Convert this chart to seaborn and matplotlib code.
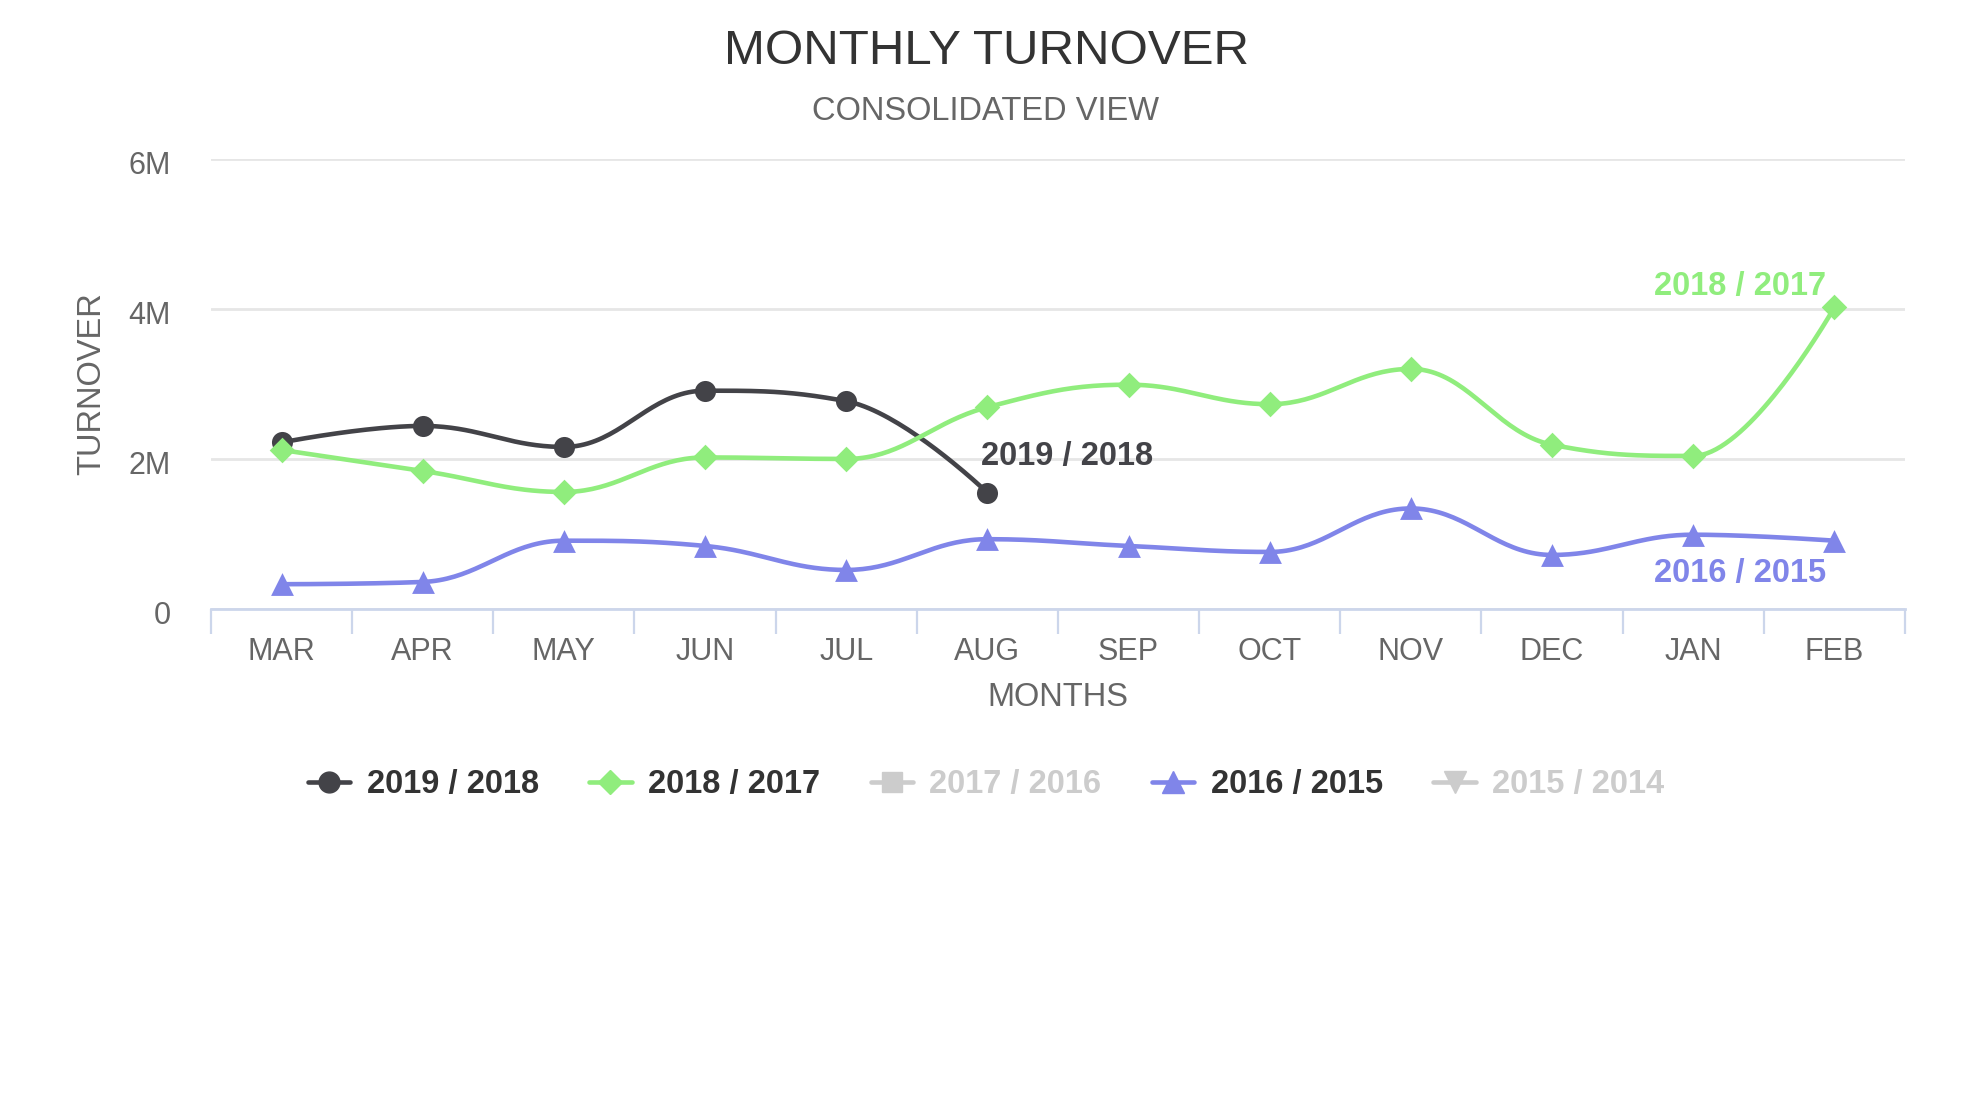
import numpy as np
import pandas as pd
import matplotlib
matplotlib.use("Agg")
import matplotlib.pyplot as plt
from matplotlib.lines import Line2D
import matplotlib.transforms as mtransforms
import seaborn as sns

months = ["MAR", "APR", "MAY", "JUN", "JUL", "AUG", "SEP", "OCT", "NOV", "DEC", "JAN", "FEB"]

# turnover values in millions
t_2019_2018 = [2.22, 2.44, 2.16, 2.91, 2.77, 1.55]
t_2018_2017 = [2.12, 1.84, 1.56, 2.02, 2.00, 2.69, 2.99, 2.73, 3.20, 2.19, 2.04, 4.02]
t_2016_2015 = [0.33, 0.36, 0.91, 0.84, 0.52, 0.93, 0.84, 0.76, 1.34, 0.72, 0.99, 0.91]

legend_names = ["2019 / 2018", "2018 / 2017", "2017 / 2016", "2016 / 2015", "2015 / 2014"]
y_ticks = [0, 2e6, 4e6, 6e6]
y_tick_labels = ["0", "2M", "4M", "6M"]

DARK = "#434348"
GREEN = "#90ed7d"
BLUE = "#8085e9"
HIDDEN = "#cccccc"


def spline(xs, ys, steps=40):
    # highcharts-like smoothed path through the points
    xs = list(map(float, xs))
    ys = list(map(float, ys))
    n = len(xs)
    sm, den = 1.5, 2.5
    right = [None] * n
    left = [None] * n
    for i in range(1, n - 1):
        lx = (sm * xs[i] + xs[i - 1]) / den
        ly = (sm * ys[i] + ys[i - 1]) / den
        rx = (sm * xs[i] + xs[i + 1]) / den
        ry = (sm * ys[i] + ys[i + 1]) / den
        corr = ((ry - ly) * (rx - xs[i])) / (rx - lx) + ys[i] - ry
        ly += corr
        ry += corr
        if ly > ys[i - 1] and ly > ys[i]:
            ly = max(ys[i - 1], ys[i]); ry = 2 * ys[i] - ly
        elif ly < ys[i - 1] and ly < ys[i]:
            ly = min(ys[i - 1], ys[i]); ry = 2 * ys[i] - ly
        if ry > ys[i + 1] and ry > ys[i]:
            ry = max(ys[i + 1], ys[i]); ly = 2 * ys[i] - ry
        elif ry < ys[i + 1] and ry < ys[i]:
            ry = min(ys[i + 1], ys[i]); ly = 2 * ys[i] - ry
        left[i] = (lx, ly)
        right[i] = (rx, ry)
    px, py = [xs[0]], [ys[0]]
    t = np.linspace(0, 1, steps)[1:]
    for i in range(1, n):
        p0 = (xs[i - 1], ys[i - 1])
        p1 = right[i - 1] or p0
        p3 = (xs[i], ys[i])
        p2 = left[i] or p3
        bx = (1 - t) ** 3 * p0[0] + 3 * (1 - t) ** 2 * t * p1[0] + 3 * (1 - t) * t ** 2 * p2[0] + t ** 3 * p3[0]
        by = (1 - t) ** 3 * p0[1] + 3 * (1 - t) ** 2 * t * p1[1] + 3 * (1 - t) * t ** 2 * p2[1] + t ** 3 * p3[1]
        px.extend(bx)
        py.extend(by)
    return np.array(px), np.array(py)


sns.set_style("white")
plt.rcParams["font.family"] = ["Liberation Sans", "DejaVu Sans"]

fig = plt.figure(figsize=(19.72, 11.09), dpi=100)
ax = fig.add_axes([0.1070, 0.4509, 0.8590, 0.4058])

series = [
    (t_2019_2018, DARK, "o", 230),
    (t_2018_2017, GREEN, "D", 170),
    (t_2016_2015, BLUE, "^", 270),
]
for vals, col, mk, sz in series:
    x = np.arange(len(vals))
    y = np.array(vals) * 1e6
    cx, cy = spline(x, y)
    sns.lineplot(x=cx, y=cy, color=col, linewidth=3.3, sort=False, ax=ax)
    sns.scatterplot(x=x, y=y, color=col, marker=mk, s=sz, linewidth=0, ax=ax, zorder=3)

ax.set_xlim(-0.5, 11.5)
ax.set_ylim(0, 6e6)
ax.set_yticks(y_ticks)
ax.set_yticklabels(y_tick_labels)
ax.set_xticks(range(len(months)))
ax.set_xticklabels(months)
ax.set_xticks(np.arange(-0.5, 12, 1), minor=True)
ax.grid(axis="y", color="#e6e6e6", linewidth=2)
ax.grid(axis="x", visible=False)
ax.set_axisbelow(True)
for s in ["top", "right", "left"]:
    ax.spines[s].set_visible(False)
ax.spines["bottom"].set_color("#ccd6eb")
ax.spines["bottom"].set_linewidth(2)
ax.tick_params(axis="x", which="major", bottom=True, length=0, pad=20, labelsize=22, labelcolor="#666666")
ax.tick_params(axis="x", which="minor", bottom=True, length=18, width=1.6, color="#ccd6eb", direction="out")
ax.tick_params(axis="y", length=0, pad=29, labelsize=22, labelcolor="#666666")
shift = mtransforms.ScaledTranslation(0, -4 / 100, fig.dpi_scale_trans)
for lab in ax.get_yticklabels():
    lab.set_transform(lab.get_transform() + shift)
ax.set_xlabel("")
ax.set_ylabel("")

# series labels
ax.annotate("2019 / 2018", (5, t_2019_2018[-1] * 1e6), xytext=(-6, 36), textcoords="offset pixels",
            ha="left", va="center", fontsize=23.5, fontweight="bold", color=DARK)
ax.annotate("2018 / 2017", (11, t_2018_2017[-1] * 1e6), xytext=(-8, 21), textcoords="offset pixels",
            ha="right", va="center", fontsize=23.5, fontweight="bold", color=GREEN)
ax.annotate("2016 / 2015", (11, t_2016_2015[-1] * 1e6), xytext=(-8, -33), textcoords="offset pixels",
            ha="right", va="center", fontsize=23.5, fontweight="bold", color=BLUE)

fig.text(0.5, 1 - 52 / 1109, "MONTHLY TURNOVER", ha="center", va="center", fontsize=35.5, color="#333333")
fig.text(0.5, 1 - 112 / 1109, "CONSOLIDATED VIEW", ha="center", va="center", fontsize=23.5, color="#666666")
fig.text(92 / 1972, 1 - 384 / 1109, "TURNOVER", rotation=90, ha="center", va="center", fontsize=23.5, color="#666666")
fig.text(1058 / 1972, 1 - 697 / 1109, "MONTHS", ha="center", va="center", fontsize=23.5, color="#666666")

handles = [
    Line2D([], [], color=DARK, marker="o", markersize=15, lw=3.3),
    Line2D([], [], color=GREEN, marker="D", markersize=12, lw=3.3),
    Line2D([], [], color=HIDDEN, marker="s", markersize=14, lw=3.3),
    Line2D([], [], color=BLUE, marker="^", markersize=16, lw=3.3),
    Line2D([], [], color=HIDDEN, marker="v", markersize=16, lw=3.3),
]
leg = fig.legend(handles, legend_names, loc="center", bbox_to_anchor=(0.5, 1 - 785 / 1109), ncol=5,
                 frameon=False, prop={"size": 23.5, "weight": "bold"}, handlelength=1.3,
                 handletextpad=0.5, columnspacing=1.55)
for txt, c in zip(leg.get_texts(), ["#333333", "#333333", HIDDEN, "#333333", HIDDEN]):
    txt.set_color(c)

fig.savefig("out.png", dpi=100)
